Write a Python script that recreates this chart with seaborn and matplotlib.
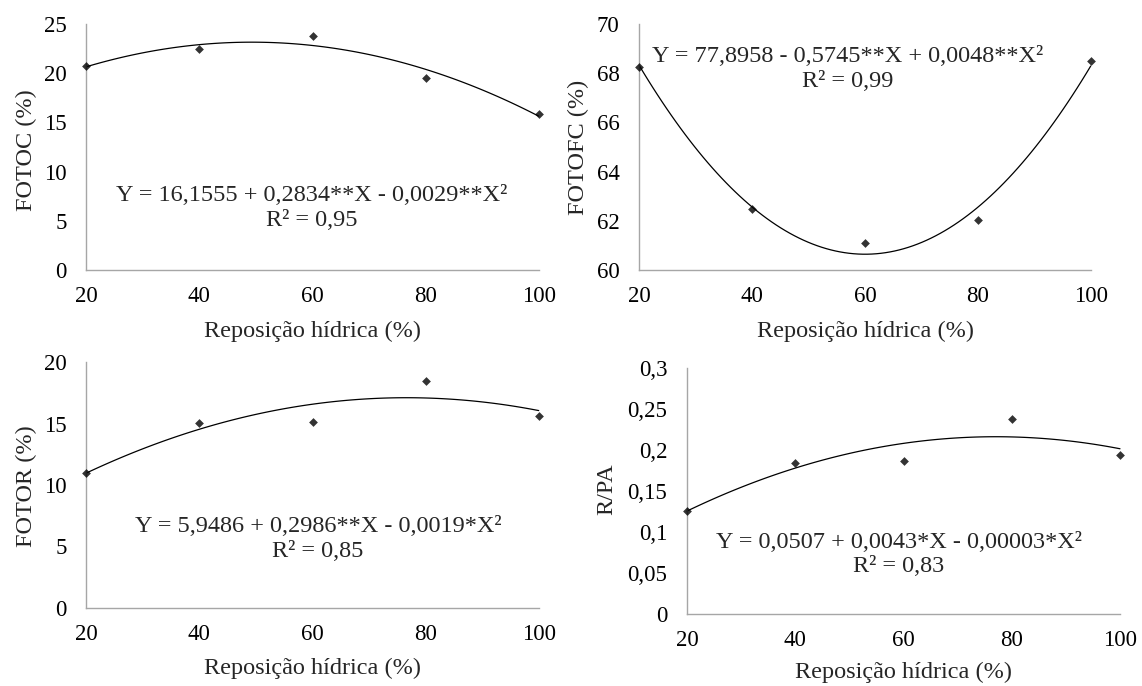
import matplotlib
matplotlib.use("Agg")
import matplotlib.pyplot as plt
import seaborn as sns
import numpy as np
import pandas as pd

# ---- data ----
reposicao = [20, 40, 60, 80, 100]
fotoc = [20.7, 22.5, 23.75, 19.55, 15.9]
fotofc = [68.27, 62.48, 61.1, 62.02, 68.48]
fotor = [10.95, 15.05, 15.15, 18.45, 15.6]
rpa = [0.126, 0.184, 0.187, 0.238, 0.194]

ylabels = ["FOTOC (%)", "FOTOFC (%)", "FOTOR (%)", "R/PA"]
equations = [
    "Y = 16,1555 + 0,2834**X - 0,0029**X²\nR² = 0,95",
    "Y = 77,8958 - 0,5745**X + 0,0048**X²\nR² = 0,99",
    "Y = 5,9486 + 0,2986**X - 0,0019*X²\nR² = 0,85",
    "Y = 0,0507 + 0,0043*X - 0,00003*X²\nR² = 0,83",
]
yticks = [
    [0, 5, 10, 15, 20, 25],
    [60, 62, 64, 66, 68, 70],
    [0, 5, 10, 15, 20],
    [0, 0.05, 0.1, 0.15, 0.2, 0.25, 0.3],
]
yticklabels = [
    ["0", "5", "10", "15", "20", "25"],
    ["60", "62", "64", "66", "68", "70"],
    ["0", "5", "10", "15", "20"],
    ["0", "0,05", "0,1", "0,15", "0,2", "0,25", "0,3"],
]
xticks = [20, 40, 60, 80, 100]
xlabel = "Reposição hídrica (%)"

sns.set_style("white")
plt.rcParams["font.family"] = ["Liberation Serif", "DejaVu Serif"]
plt.rcParams["font.size"] = 17

W, H = 1142, 686
fig = plt.figure(figsize=(W / 100, H / 100), dpi=100)

# axes boxes in pixels: left, right, top, bottom
boxes = [
    (86.3, 538.7, 24, 270),
    (639.3, 1090.7, 24, 270),
    (86.3, 538.7, 362, 608),
    (687, 1120, 368, 614),
]
text_pos = [(59.9, 6.3), (56.9, 68.17), (61.0, 5.61), (59.15, 0.0726)]
ylabel_x = [26, 578, 26, 607]
ylabel_y = [150, 147, 486, 489]
xlabel_y = [331, 331, 668, 672]

series = [fotoc, fotofc, fotor, rpa]
gray = "#A6A6A6"
FS_TICK = 16.5
FS_TXT = 17.5

for i in range(4):
    l, r, t, b = boxes[i]
    ax = fig.add_axes([l / W, 1 - b / H, (r - l) / W, (b - t) / H])
    df = pd.DataFrame({"x": reposicao, "y": series[i]})
    sns.regplot(data=df, x="x", y="y", order=2, ci=None, ax=ax,
                marker="D",
                scatter_kws=dict(s=20, color="black", edgecolor="black", linewidths=0, zorder=3),
                line_kws=dict(color="black", lw=0.9, zorder=2))
    ax.set_xlim(20, 100)
    ax.set_ylim(yticks[i][0], yticks[i][-1])
    ax.set_xticks(xticks)
    ax.set_xticklabels([str(v) for v in xticks])
    ax.set_yticks(yticks[i])
    ax.set_yticklabels(yticklabels[i])
    ax.set_xlabel("")
    ax.set_ylabel("")
    for s in ["top", "right"]:
        ax.spines[s].set_visible(False)
    for s in ["left", "bottom"]:
        ax.spines[s].set_color(gray)
        ax.spines[s].set_linewidth(1.0)
    ax.tick_params(axis="both", which="major", direction="out", length=4.3,
                   width=1, color=gray, labelsize=FS_TICK, labelcolor="black")
    ax.tick_params(axis="x", pad=7.5)
    ax.tick_params(axis="y", pad=10)
    ax.text(text_pos[i][0], text_pos[i][1], equations[i], ha="center", va="center",
            fontsize=FS_TXT, linespacing=1.2)
    for c in ax.collections:
        c.set_clip_on(False)
    for ln in ax.lines:
        ln.set_clip_on(False)
    fig.text(ylabel_x[i] / W, 1 - ylabel_y[i] / H, ylabels[i], rotation=90,
             ha="center", va="center", fontsize=FS_TXT)
    fig.text(((l + r) / 2) / W, 1 - xlabel_y[i] / H, xlabel,
             ha="center", va="center", fontsize=FS_TXT)

fig.savefig("out.png", dpi=100)
